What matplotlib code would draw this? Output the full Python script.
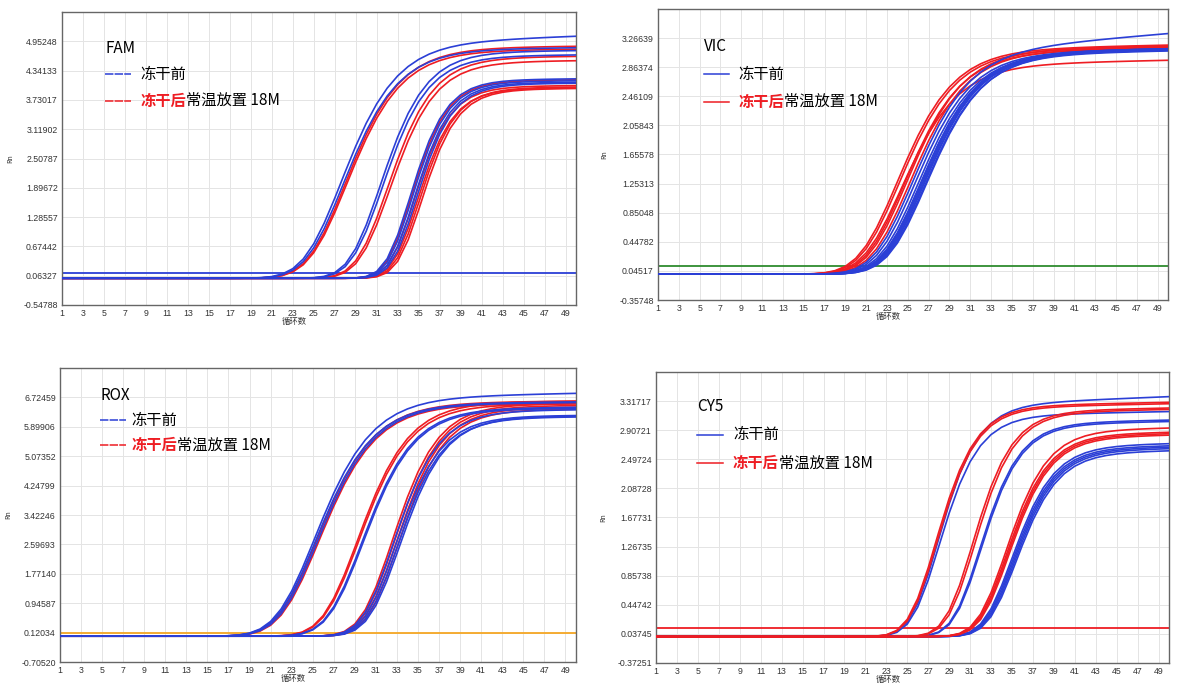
import numpy as np
import matplotlib
matplotlib.use('agg')
import matplotlib.pyplot as plt

plt.rcParams['font.family'] = ['Noto Sans CJK SC', 'DejaVu Sans']

cycles = np.arange(1, 51)
xticks = np.arange(1, 50, 2)

# lot: 0 = 冻干前 (blue), 1 = 冻干后常温放置 18M (red)
# FAM
fam_yticks = [-0.54788, 0.06327, 0.67442, 1.28557, 1.89672, 2.50787, 3.11902, 3.73017, 4.34133, 4.95248]
fam_mid = [28.4, 28.6, 28.8, 28.9, 32.0, 32.2, 32.7, 32.9,
           34.7, 34.9, 35.1, 35.3, 34.8, 35.1, 35.4, 35.6, 35.8]
fam_top = [5.06, 4.82, 4.85, 4.79, 4.76, 4.67, 4.64, 4.55,
           4.17, 4.13, 4.10, 4.08, 4.15, 4.03, 3.98, 4.00, 3.97]
fam_steep = [2.9, 2.9, 2.9, 2.9, 2.4, 2.4, 2.4, 2.4,
             1.9, 1.9, 1.9, 1.9, 1.9, 1.9, 1.9, 1.9, 1.9]
fam_drift = [0.008] + [0.002] * 16
fam_lot = [0, 0, 1, 1, 0, 0, 1, 1, 0, 0, 0, 0, 1, 1, 1, 1, 1]
fam_base = 0.01
fam_thr = 0.114

# VIC
vic_yticks = [-0.35748, 0.04517, 0.44782, 0.85048, 1.25313, 1.65578, 2.05843, 2.46109, 2.86374, 3.26639]
vic_mid = [24.8, 25.0, 25.2, 25.5, 25.7, 26.0,
           26.2, 26.5, 26.8, 27.0, 27.1, 27.2, 27.3, 27.4, 27.5, 27.6]
vic_top = [3.17, 3.15, 2.96, 3.13, 3.16, 3.14,
           3.33, 3.12, 3.11, 3.10, 3.12, 3.11, 3.10, 3.12, 3.09, 3.10]
vic_steep = [3.0] * 16
vic_drift = [0.003] * 6 + [0.012] + [0.003] * 9
vic_lot = [1] * 6 + [0] * 10
vic_base = 0.0
vic_thr = 0.113

# ROX
rox_yticks = [-0.70520, 0.12034, 0.94587, 1.77140, 2.59693, 3.42246, 4.24799, 5.07352, 5.89906, 6.72459]
rox_mid = [26.0, 26.1, 26.2, 26.3, 26.4, 30.0, 30.1, 30.4, 30.5,
           33.2, 33.3, 33.4, 33.5, 33.6, 33.7, 33.8, 33.9]
rox_top = [6.84, 6.60, 6.62, 6.58, 6.56, 6.62, 6.55, 6.45, 6.42,
           6.55, 6.38, 6.50, 6.22, 6.45, 6.18, 6.40, 6.20]
rox_steep = [3.0] * 5 + [2.7] * 4 + [2.4] * 8
rox_drift = [0.006] + [0.002] * 16
rox_lot = [0, 0, 1, 0, 1, 1, 1, 0, 0, 1, 0, 1, 0, 1, 0, 1, 0]
rox_base = 0.02
rox_thr = 0.118

# CY5
cy5_yticks = [-0.37251, 0.03745, 0.44742, 0.85738, 1.26735, 1.67731, 2.08728, 2.49724, 2.90721, 3.31717]
cy5_mid = [28.3, 28.4, 28.5, 28.6, 31.8, 32.0, 32.5, 32.6,
           35.0, 35.1, 35.2, 35.3, 35.6, 35.7, 35.8, 35.9, 36.0]
cy5_top = [3.30, 3.28, 3.38, 3.17, 3.22, 3.20, 3.05, 3.03,
           2.94, 2.88, 2.86, 2.84, 2.72, 2.69, 2.67, 2.65, 2.62]
cy5_steep = [2.1] * 8 + [2.2] * 9
cy5_drift = [0.003, 0.003, 0.006] + [0.003] * 14
cy5_lot = [1, 1, 0, 0, 1, 1, 0, 0, 1, 1, 1, 1, 0, 0, 0, 0, 0]
cy5_base = 0.0
cy5_thr = 0.116

BLUE = '#2b3fd6'
RED = '#ee1d23'
lot_colors = [BLUE, RED]


def amp_curve(mid, top, steep, drift, base):
    # 5-parameter logistic amplification curve, mid = half-height cycle
    z = (cycles - mid) / steep - np.log(2 ** 0.25 - 1)
    frac = (1 + np.exp(-z)) ** -4
    return base + (top + drift * (cycles - 50) - base) * frac


def draw_panel(box, name, yticks, mid, top, steep, drift, lot, base, thr, thr_color,
               red_on_top, leg, dashed_key, rn_x):
    W, H = 1186, 693
    l, t, r, b = box
    ax = fig.add_axes([l / W, 1 - b / H, (r - l) / W, (b - t) / H])
    step = yticks[1] - yticks[0]
    ax.set_xlim(1, 50)
    ax.set_ylim(yticks[0], yticks[0] + 10 * step)
    ax.set_xticks(xticks)
    ax.set_xticklabels([str(c) for c in xticks])
    ax.set_yticks(yticks)
    ax.set_yticklabels(['%.5f' % v for v in yticks])
    ax.tick_params(length=0, pad=3, labelsize=6.3, labelcolor='#333333')
    for lab in ax.get_xticklabels() + ax.get_yticklabels():
        lab.set_family('Liberation Sans')
    ax.grid(True, color='#e4e4e4', lw=0.7)
    ax.set_axisbelow(True)
    for sp in ax.spines.values():
        sp.set_color('#666666')
        sp.set_linewidth(1.0)

    first = 0 if red_on_top else 1
    order = sorted(range(len(mid)), key=lambda i: 0 if lot[i] == first else 1)
    for i in order:
        ax.plot(cycles, amp_curve(mid[i], top[i], steep[i], drift[i], base),
                color=lot_colors[lot[i]], lw=1.2, zorder=3)
    ax.axhline(thr, color=thr_color, lw=1.3, zorder=2)

    ax.set_ylabel('Rn', fontsize=5, color='#333333')
    ax.yaxis.set_label_coords((rn_x - l) / (r - l), 0.5)
    ax.set_xlabel('循环数', fontsize=6, color='#333333')
    ax.xaxis.set_label_coords(0.452, -0.042)

    x0, y0, dx, gap = leg
    ax.text(x0, y0, name, transform=ax.transAxes, fontsize=11, va='center', ha='left')
    ls = (0, (5.5, 0.8)) if dashed_key else '-'
    for k, color in enumerate([BLUE, RED]):
        yy = y0 - (k + 1) * gap
        ax.plot([x0, x0 + 0.05], [yy, yy], transform=ax.transAxes, color=color,
                lw=1.1, ls=ls, zorder=4)
    ax.text(x0 + dx, y0 - gap, '冻干前', transform=ax.transAxes, fontsize=11,
            va='center', ha='left')
    t1 = ax.text(x0 + dx, y0 - 2 * gap, '冻干后', transform=ax.transAxes, fontsize=11,
                 va='center', ha='left', color=RED, weight='bold')
    ax.annotate('常温放置 18M', xy=(1, 0.5), xycoords=t1, fontsize=11,
                va='center', ha='left')
    return ax


fig = plt.figure(figsize=(11.86, 6.93), dpi=100)

draw_panel((62, 12, 576, 305), 'FAM', fam_yticks, fam_mid, fam_top, fam_steep, fam_drift,
           fam_lot, fam_base, fam_thr, BLUE, False, (0.084, 0.877, 0.068, 0.09), True, 14)
draw_panel((658, 9, 1168, 300), 'VIC', vic_yticks, vic_mid, vic_top, vic_steep, vic_drift,
           vic_lot, vic_base, vic_thr, '#2e8b2e', False, (0.090, 0.870, 0.067, 0.094), False, 608)
draw_panel((60, 368, 576, 662), 'ROX', rox_yticks, rox_mid, rox_top, rox_steep, rox_drift,
           rox_lot, rox_base, rox_thr, '#f5a623', False, (0.078, 0.908, 0.061, 0.085), True, 12)
draw_panel((656, 372, 1169, 663), 'CY5', cy5_yticks, cy5_mid, cy5_top, cy5_steep, cy5_drift,
           cy5_lot, cy5_base, cy5_thr, RED, True, (0.080, 0.881, 0.070, 0.097), False, 607)

fig.savefig('out.png', dpi=100, facecolor='white')
